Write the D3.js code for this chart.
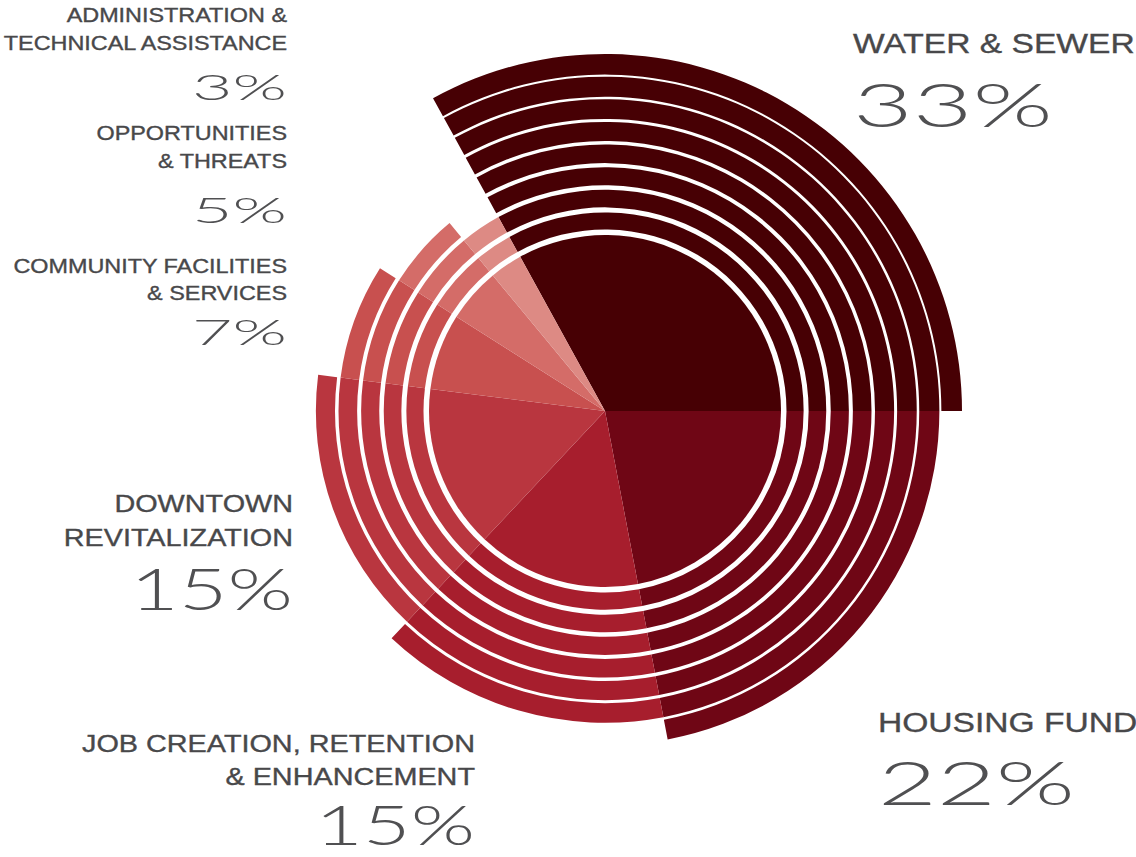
<!DOCTYPE html>
<html>
<head>
<meta charset="utf-8">
<script src="https://cdn.jsdelivr.net/npm/d3@7"></script>
<style>
  html, body { margin: 0; padding: 0; background: #fff; }
  svg { display: block; }
  .lbl { font-family: "Liberation Sans", Arial, sans-serif; fill: #48484a; stroke: #48484a; stroke-width: 0.35; }
  .pct { font-family: Lato, "DejaVu Sans", sans-serif; font-weight: 300; fill: #505052; }
</style>
</head>
<body>
<svg id="chart" width="1136" height="857"></svg>
<script>
// ======================================================================
// DATA
// ======================================================================

// clockwise, starting with the big slice in the upper right
var categories = ["Water & Sewer", "Housing Fund", "Job Creation, Retention & Enhancement",
    "Downtown Revitalization", "Community Facilities & Services", "Opportunities & Threats",
    "Administration & Technical Assistance"];
var values = [33, 22, 15, 15, 7, 5, 3];
// number of rings drawn outside the core pie for each slice
var rings = [8, 7, 6, 5, 4, 3, 2];
var labelLines = [
    ["WATER & SEWER"],
    ["HOUSING FUND"],
    ["JOB CREATION, RETENTION", "& ENHANCEMENT"],
    ["DOWNTOWN", "REVITALIZATION"],
    ["COMMUNITY FACILITIES", "& SERVICES"],
    ["OPPORTUNITIES", "& THREATS"],
    ["ADMINISTRATION &", "TECHNICAL ASSISTANCE"]
];

// ======================================================================
// LAYOUT / STYLE
// ======================================================================

var colors = ["#470004", "#6f0615", "#a71e2d", "#b9363f", "#c8504f", "#d46c68", "#dd8a84"];
var cx = 605, cy = 411;
var coreR = 176, outerR = 357;
var stretch = 1.2;

// where each label block sits
var labelPos = [
    {x: 853, anchor: "start", y: 53,  lh: 0,  fs: 28,   py: 127, pfs: 61, pw: 200},
    {x: 878, anchor: "start", y: 732, lh: 0,  fs: 28,   py: 805, pfs: 62, pw: 197},
    {x: 475, anchor: "end",   y: 752, lh: 33, fs: 24,   py: 845, pfs: 56, pw: 160},
    {x: 293, anchor: "end",   y: 512, lh: 34, fs: 24,   py: 610, pfs: 58, pw: 163},
    {x: 287, anchor: "end",   y: 273, lh: 27, fs: 19.5, py: 345, pfs: 36, pw: 95},
    {x: 287, anchor: "end",   y: 140, lh: 28, fs: 19.5, py: 223, pfs: 36, pw: 95},
    {x: 287, anchor: "end",   y: 22,  lh: 28, fs: 19.5, py: 100, pfs: 36, pw: 95}
];

// ======================================================================
// CHART
// ======================================================================

var svg = d3.select("#chart");

// first slice ends exactly at 3 o'clock
var total = d3.sum(values);
var start = Math.PI / 2 - values[0] / total * 2 * Math.PI;
var pie = d3.pie().sort(null).value(function(d) { return d; })
    .startAngle(start).endAngle(start + 2 * Math.PI);
var slices = pie(values);

var ringScale = d3.scaleLinear().domain([0, d3.max(rings)]).range([coreR, outerR]);
var gapScale = d3.scaleLinear().domain([1, d3.max(rings)]).range([5.5, 2]);

// one piece per slice per ring (ring 0 is the solid core)
var pieces = [];
slices.forEach(function(s, i) {
    for (var k = 0; k <= rings[i]; k++) {
        pieces.push({
            startAngle: s.startAngle,
            endAngle: s.endAngle,
            innerRadius: k === 0 ? 0 : ringScale(k - 1) + gapScale(k),
            outerRadius: ringScale(k),
            i: i
        });
    }
});

var arc = d3.arc();
var g = svg.append("g").attr("transform", "translate(" + cx + "," + cy + ")");
g.selectAll("path")
    .data(pieces)
    .enter().append("path")
    .attr("d", arc)
    .attr("fill", function(d) { return colors[d.i]; });

// ======================================================================
// LABELS
// ======================================================================

labelPos.forEach(function(p, i) {
    var lg = svg.append("g")
        .attr("transform", "translate(" + p.x + ",0) scale(" + stretch + ",1)");
    labelLines[i].forEach(function(line, j) {
        lg.append("text")
            .attr("class", "lbl")
            .attr("x", 0)
            .attr("y", p.y + j * p.lh)
            .attr("text-anchor", p.anchor)
            .attr("font-size", p.fs)
            .text(line);
    });
    svg.append("text")
        .attr("class", "pct")
        .attr("x", p.x)
        .attr("y", p.py)
        .attr("text-anchor", p.anchor)
        .attr("font-size", p.pfs)
        .attr("textLength", p.pw)
        .attr("lengthAdjust", "spacingAndGlyphs")
        .text(values[i] + "%");
});
</script>
</body>
</html>
